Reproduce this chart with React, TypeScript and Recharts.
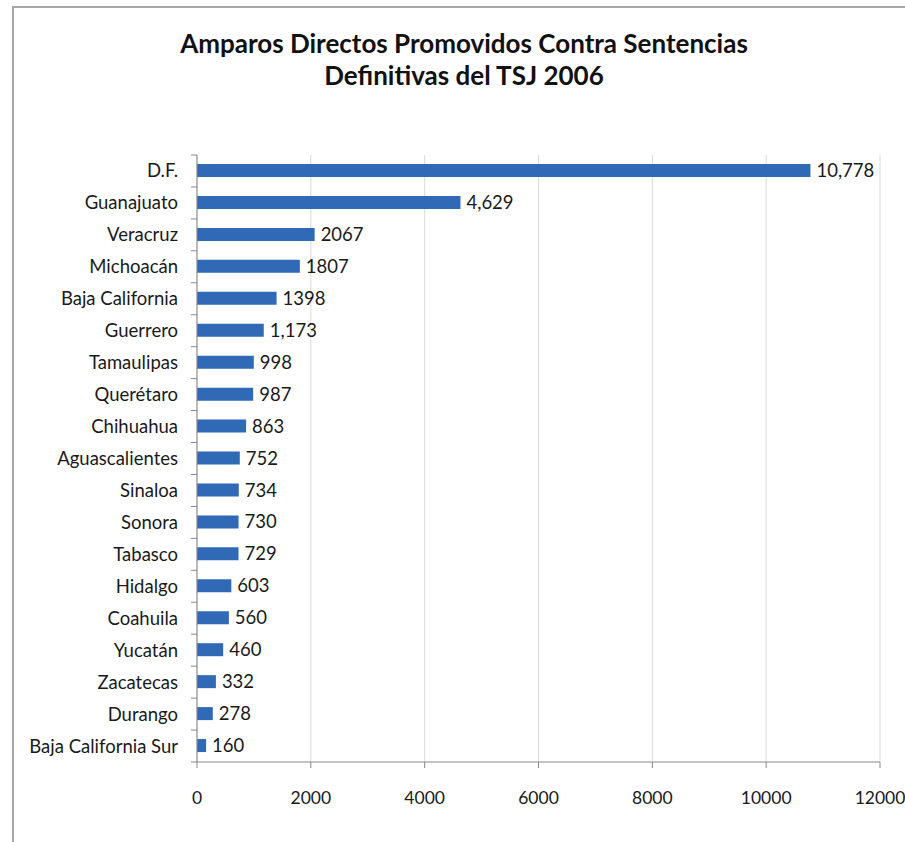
import React from 'react';
import { BarChart, Bar, XAxis, YAxis, CartesianGrid, LabelList } from 'recharts';

const states = ['D.F.', 'Guanajuato', 'Veracruz', 'Michoacán', 'Baja California', 'Guerrero', 'Tamaulipas', 'Querétaro', 'Chihuahua', 'Aguascalientes', 'Sinaloa', 'Sonora', 'Tabasco', 'Hidalgo', 'Coahuila', 'Yucatán', 'Zacatecas', 'Durango', 'Baja California Sur'];
const values = [10778, 4629, 2067, 1807, 1398, 1173, 998, 987, 863, 752, 734, 730, 729, 603, 560, 460, 332, 278, 160];
const valueLabels = ['10,778', '4,629', '2067', '1807', '1398', '1,173', '998', '987', '863', '752', '734', '730', '729', '603', '560', '460', '332', '278', '160'];
const xTicks = [0, 2000, 4000, 6000, 8000, 10000, 12000];

const data = states.map((s, i) => ({ name: s, value: values[i], label: valueLabels[i] }));

const FONT = 'Lato, "Open Sans", sans-serif';
const TOP = 155;
const BOTTOM_SPACE = 80;
const H = 842;
const BAND = (H - TOP - BOTTOM_SPACE) / states.length;

const YTick = (props: any) => {
  const { x, y, payload, index } = props;
  const ax = x; // axis x
  return (
    <g>
      <line x1={ax - 6} x2={ax} y1={y - BAND / 2} y2={y - BAND / 2} stroke="#888" />
      {index === states.length - 1 && (
        <line x1={ax - 6} x2={ax} y1={y + BAND / 2} y2={y + BAND / 2} stroke="#888" />
      )}
      <text x={ax - 19} y={y} dy="0.35em" textAnchor="end" fontSize={18.5} fill="#1a1a1a" fontFamily={FONT}>
        {payload.value}
      </text>
    </g>
  );
};

export default function App() {
  return (
    <div style={{ position: 'absolute', left: 0, top: 0, width: 905, height: 842, background: '#fff' }}>
      <div style={{ position: 'absolute', left: 12, top: 6, width: 893, height: 836, borderLeft: '2px solid #a6a6a6', borderTop: '2px solid #a6a6a6' }} />
      <div style={{ position: 'absolute', left: 0, top: 27, width: 928, textAlign: 'center', fontFamily: FONT, fontWeight: 700, fontSize: 26, lineHeight: '32px', color: '#111' }}>
        <div>Amparos Directos Promovidos Contra Sentencias</div>
        <div>Definitivas del TSJ 2006</div>
      </div>
      <div style={{ position: 'absolute', left: 0, top: 0 }}>
        <BarChart width={905} height={842} data={data} layout="vertical" margin={{ top: TOP, right: 25, bottom: 40, left: 0 }} barCategoryGap="0%">
          <CartesianGrid horizontal={false} stroke="#d9d9d9" />
          <XAxis type="number" domain={[0, 12000]} ticks={xTicks} height={40} tickSize={6} tickMargin={24} stroke="#888" tick={{ fontSize: 17.5, fill: '#1a1a1a', fontFamily: FONT }} />
          <YAxis type="category" dataKey="name" width={197} tickLine={false} tickSize={0} tickMargin={0} tick={<YTick />} stroke="#888" interval={0} />
          <Bar dataKey="value" fill="#3069b5" barSize={13} isAnimationActive={false}>
            <LabelList dataKey="label" position="right" offset={6} fontSize={18.5} fill="#1a1a1a" fontFamily={FONT} />
          </Bar>
        </BarChart>
      </div>
    </div>
  );
}
